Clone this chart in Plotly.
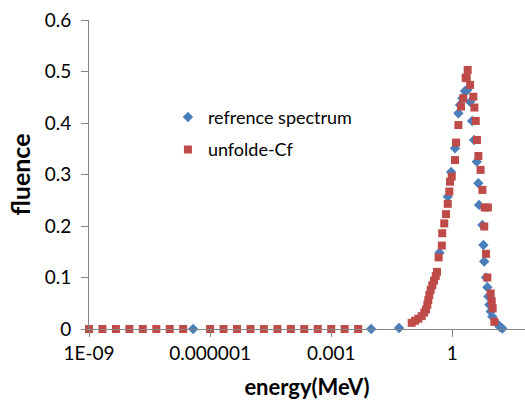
import plotly.graph_objects as go

# reference spectrum (blue diamonds)
ref_energy = [3.8e-7, 0.00977, 0.0479, 0.479, 0.769, 0.933, 1.167, 1.413, 1.549, 1.778,
              2.065, 2.344, 2.754, 3.090, 3.467, 4.027, 4.416, 4.592, 5.559, 5.888,
              6.166, 6.839, 7.379, 7.816, 8.279, 8.913, 9.772, 12.59, 15.14, 17.38]
ref_fluence = [0.0, 0.0, 0.002, 0.148, 0.257, 0.305, 0.351, 0.419, 0.435, 0.448,
               0.462, 0.464, 0.441, 0.404, 0.367, 0.325, 0.283, 0.241, 0.202, 0.163,
               0.131, 0.100, 0.081, 0.063, 0.047, 0.034, 0.024, 0.011, 0.004, 0.001]

# unfolded Cf spectrum (red squares)
unf_energy = [1e-9, 2.15e-9, 4.64e-9, 1e-8, 2.15e-8, 4.64e-8, 1e-7, 2.15e-7,
              1e-6, 2.15e-6, 4.64e-6, 1e-5, 2.15e-5, 4.64e-5, 1e-4, 2.15e-4, 4.64e-4,
              1e-3, 2.15e-3, 4.64e-3,
              0.0984, 0.119, 0.1435, 0.174, 0.202, 0.223, 0.240, 0.254, 0.269, 0.291,
              0.319, 0.352, 0.389, 0.417, 0.457, 0.550, 0.562, 0.631, 0.698, 0.769,
              0.843, 0.877, 0.966, 1.167, 1.236, 1.413, 1.644, 1.862, 2.138, 2.275,
              2.399, 2.754, 3.311, 3.516, 3.802, 4.074, 4.416, 5.012, 5.559, 6.166,
              6.310, 7.586, 6.839, 7.379, 8.913, 9.462, 10.0, 10.96]
unf_fluence = [0.0] * 20 + [
              0.012, 0.016, 0.020, 0.025, 0.032, 0.038, 0.047, 0.056, 0.066, 0.076,
              0.085, 0.094, 0.103, 0.111, 0.139, 0.162, 0.186, 0.205, 0.223, 0.243,
              0.267, 0.286, 0.296, 0.328, 0.362, 0.396, 0.432, 0.448, 0.488, 0.487,
              0.503, 0.474, 0.451, 0.430, 0.404, 0.367, 0.336, 0.309, 0.270, 0.199,
              0.236, 0.236, 0.146, 0.100, 0.069, 0.054, 0.040, 0.014]

x_tickvals = [1e-9, 1e-6, 1e-3, 1]
x_ticktext = ["1E-09", "0.000001", "0.001", "1"]

FONT = "Lato"
AXC = "#868686"

fig = go.Figure()
fig.add_trace(go.Scatter(
    x=ref_energy, y=ref_fluence, mode="markers", name="refrence spectrum",
    legendgroup="a", cliponaxis=False,
    marker=dict(symbol="diamond", size=8, color="#4A7EBB")))
fig.add_trace(go.Scatter(
    x=unf_energy, y=unf_fluence, mode="markers", name="unfolde-Cf",
    legendgroup="b", cliponaxis=False,
    marker=dict(symbol="square", size=8, color="#BE4B48")))

fig.update_layout(
    width=525, height=404,
    margin=dict(l=89, r=0, t=20, b=75),
    paper_bgcolor="white", plot_bgcolor="white",
    font=dict(family=FONT, size=18, color="#000000"),
    showlegend=True,
    legend=dict(x=0.181, y=0.745, xanchor="left", yanchor="top",
                bgcolor="rgba(0,0,0,0)", traceorder="grouped",
                tracegroupgap=6, font=dict(size=18, family=FONT)),
    xaxis=dict(type="log", range=[-9, 1.8], tickvals=x_tickvals, ticktext=x_ticktext,
               showgrid=False, zeroline=False, showline=True, linecolor=AXC,
               ticks="outside", ticklen=7, tickcolor=AXC,
               tickfont=dict(size=19, family=FONT),
               title=dict(text="<b>energy(MeV)</b>", font=dict(size=22, family=FONT),
                          standoff=16)),
    yaxis=dict(range=[0, 0.6], dtick=0.1, showgrid=False, zeroline=False,
               showline=True, linecolor=AXC, ticks="outside", ticklen=7,
               tickcolor=AXC, tickfont=dict(size=19, family=FONT),
               ticklabelstandoff=6,
               title=dict(text="<b>fluence</b>", font=dict(size=25, family=FONT),
                          standoff=6)),
)

fig.write_html("out.html")
